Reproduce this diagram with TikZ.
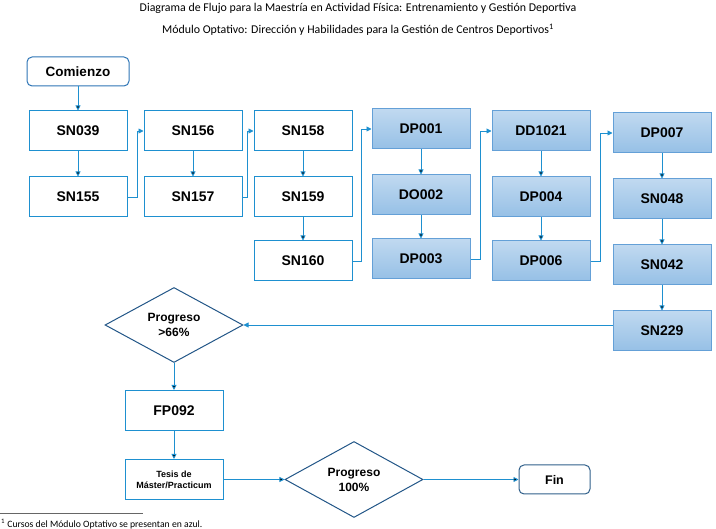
\documentclass[tikz,border=0pt]{standalone}
\usepackage{fontspec}
\setmainfont{Carlito}
\newfontfamily\arialfont{Liberation Sans}
\usetikzlibrary{arrows.meta,shapes.geometric,positioning}
\definecolor{lineblue}{RGB}{30,144,208}
\definecolor{optline}{RGB}{100,160,215}
\definecolor{opttop}{RGB}{192,217,240}
\definecolor{optbot}{RGB}{150,192,230}
\definecolor{decline}{RGB}{34,86,135}
\definecolor{startline}{RGB}{46,117,182}
\definecolor{endline}{RGB}{47,95,138}

\begin{document}
\begin{tikzpicture}[x=1pt, y=-1pt, node distance=25pt,
    box/.style={draw=lineblue, line width=1pt, minimum width=98pt, minimum height=40pt,
                inner sep=0pt, font=\arialfont\bfseries\fontsize{14}{16}\selectfont},
    opt/.style={box, draw=optline, top color=opttop, bottom color=optbot},
    term/.style={box, rounded corners=5pt},
    dec/.style={diamond, draw=decline, line width=1pt, aspect=1.84, inner sep=0pt,
                minimum width=138pt, minimum height=75pt, align=center,
                font=\arialfont\bfseries\fontsize{12}{15}\selectfont},
    link/.style={draw=lineblue, line width=0.9pt, -{Triangle[length=5pt,width=5pt]}}]
\useasboundingbox (0,0) rectangle (716,529);

\node (title) at (358,8) {\fontsize{11.9}{13}\selectfont Diagrama de Flujo para la Maestría en Actividad Física: Entrenamiento y Gestión Deportiva};
\node (subtitle) at (358,30) {\fontsize{11.9}{13}\selectfont Módulo Optativo: Dirección y Habilidades para la Gestión de Centros Deportivos\textsuperscript{1}};

\node[box] (sn039) at (78,131) {SN039};
\node[box, below= of sn039] (sn155) {SN155};
\node[term, draw=startline, minimum width=102pt, minimum height=29pt,
      font=\arialfont\bfseries\fontsize{13.5}{15}\selectfont, above=24pt of sn039] (start) {Comienzo};

\node[box] (sn156) at (193,131) {SN156};
\node[box, below= of sn156] (sn157) {SN157};

\node[box] (sn158) at (303,131) {SN158};
\node[box, below= of sn158] (sn159) {SN159};
\node[box, below=23pt of sn159] (sn160) {SN160};

\node[opt] (dp001) at (421,129) {DP001};
\node[opt, below= of dp001] (do002) {DO002};
\node[opt, below=23pt of do002] (dp003) {DP003};

\node[opt] (dd1021) at (541,131) {DD1021};
\node[opt, below= of dd1021] (dp004) {DP004};
\node[opt, below=23pt of dp004] (dp006) {DP006};

\node[opt] (dp007) at (662,133) {DP007};
\node[opt, below= of dp007] (sn048) {SN048};
\node[opt, below= of sn048] (sn042) {SN042};
\node[opt, below= of sn042] (sn229) {SN229};

\node[dec] (prog66) at (174,325) {Progreso\\>66\%};
\node[box, below=27pt of prog66] (fp092) {FP092};
\node[box, below=28pt of fp092, align=center,
      font=\arialfont\bfseries\fontsize{9}{11}\selectfont] (tesis) {Tesis de\\Máster/Practicum};
\node[dec, minimum height=76pt, right=61pt of tesis] (prog100) {Progreso\\100\%};
\node[term, draw=endline, minimum width=71pt, minimum height=29pt,
      font=\arialfont\bfseries\fontsize{12.5}{15}\selectfont, right=95pt of prog100] (fin) {Fin};

\path[link]
(start) edge (sn039)
(sn039) edge (sn155)
(sn156) edge (sn157)
(sn158) edge (sn159)
(sn159) edge (sn160)
(dp001) edge (do002)
(do002) edge (dp003)
(dd1021) edge (dp004)
(dp004) edge (dp006)
(dp007) edge (sn048)
(sn048) edge (sn042)
(sn042) edge (sn229)
(prog66) edge (fp092)
(fp092) edge (tesis)
(tesis) edge (prog100)
(prog100) edge (fin);
\draw[link] (prog66.east -| sn229.west) -- (prog66.east);
\draw[link] (sn155.east) -- ++(10,0) |- (sn156.west);
\draw[link] (sn157.east) -- ++(5,0) |- (sn158.west);
\draw[link] (sn160.east) -- ++(9,0) |- (dp001.west);
\draw[link] (dp003.east) -- ++(10,0) |- (dd1021.west);
\draw[link] (dp006.east) -- ++(10,0) |- (dp007.west);

\coordinate (rulestart) at (0,513);
\draw[black!60, line width=0.6pt] (rulestart) -- ++(143,0);
\node[anchor=west, inner sep=0pt] (note) at (1,524) {\fontsize{9.7}{11}\selectfont\textsuperscript{1} Cursos del Módulo Optativo se presentan en azul.};
\end{tikzpicture}
\end{document}
